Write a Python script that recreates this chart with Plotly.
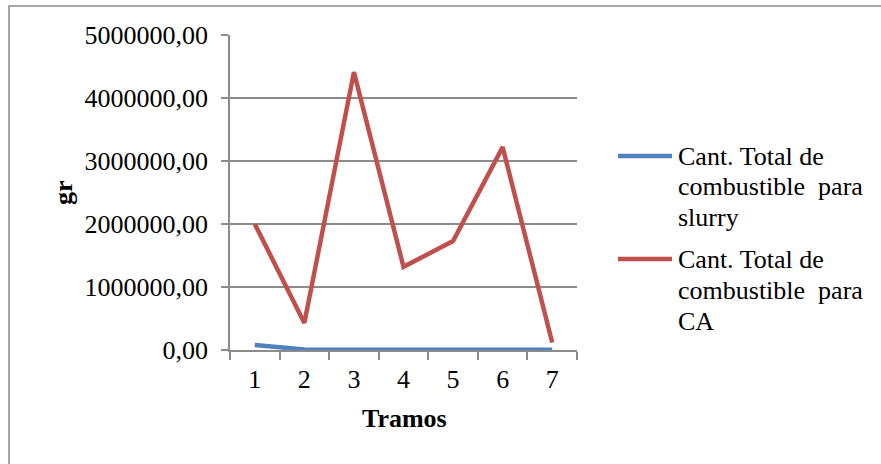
import plotly.graph_objects as go

# Tramos (segments) and fuel totals in grams
tramos = ["1", "2", "3", "4", "5", "6", "7"]
slurry_gr = [80000, 8000, 5000, 5000, 5000, 5000, 5000]
ca_gr = [2000000, 430000, 4410000, 1320000, 1730000, 3220000, 120000]
y_ticks = [0, 1000000, 2000000, 3000000, 4000000, 5000000]
y_tick_labels = ["0,00", "1000000,00", "2000000,00", "3000000,00", "4000000,00", "5000000,00"]
legend_lines = [
    ["Cant. Total de", "combustible\u00a0 para", "slurry"],
    ["Cant. Total de", "combustible\u00a0 para", "CA"],
]
colors = ["#4F81BD", "#C0504D"]

FONT = "Liberation Serif"
GRID = "#8c8c8c"

W, H = 881, 464
L, R, T, B = 230, 577, 35, 350  # plot area in pixels


def px(x):
    return (x - L) / (R - L)


def py(y):
    return (B - y) / (B - T)


fig = go.Figure()
fig.add_trace(go.Scatter(x=tramos, y=slurry_gr, mode="lines",
                         line=dict(color=colors[0], width=4.5), hoverinfo="skip"))
fig.add_trace(go.Scatter(x=tramos, y=ca_gr, mode="lines",
                         line=dict(color=colors[1], width=4.5), hoverinfo="skip"))

shapes = [
    # outer chart frame
    dict(type="rect", xref="paper", yref="paper",
         x0=px(9), x1=px(900), y0=py(480), y1=py(6),
         line=dict(color="#8a8a8a", width=1.5), fillcolor="rgba(0,0,0,0)", layer="below"),
]
annotations = [
    dict(text="<b>gr</b>", xref="paper", yref="paper", x=px(63), y=py(193),
         textangle=-90, showarrow=False, font=dict(family=FONT, size=26, color="black"),
         xanchor="center", yanchor="middle"),
    dict(text="<b>Tramos</b>", xref="paper", yref="paper", x=px(404), y=py(418),
         showarrow=False, font=dict(family=FONT, size=26, color="black"),
         xanchor="center", yanchor="middle"),
]

# legend: sample line plus wrapped label for each series
for i, (lines, col) in enumerate(zip(legend_lines, colors)):
    y0 = 156 + i * 103
    shapes.append(dict(type="line", xref="paper", yref="paper",
                       x0=px(618), x1=px(672), y0=py(y0), y1=py(y0),
                       line=dict(color=col, width=4.5)))
    for j, txt in enumerate(lines):
        annotations.append(dict(text=txt, xref="paper", yref="paper",
                                x=px(676), y=py(y0 + j * 31), showarrow=False,
                                xanchor="left", yanchor="middle",
                                font=dict(family=FONT, size=26, color="black")))

fig.update_layout(
    width=W, height=H,
    margin=dict(l=L, r=W - R, t=T, b=H - B),
    paper_bgcolor="white", plot_bgcolor="white",
    showlegend=False,
    font=dict(family=FONT, size=26, color="black"),
    shapes=shapes, annotations=annotations,
    xaxis=dict(type="category", tickson="boundaries", ticks="outside", ticklen=8,
               tickcolor=GRID, tickwidth=1.5, showline=True, linecolor=GRID, linewidth=1.5,
               showgrid=False, tickfont=dict(family=FONT, size=26, color="black"),
               ticklabelstandoff=5,
               range=[-0.5, 6.5], fixedrange=True),
    yaxis=dict(range=[0, 5000000], tickvals=y_ticks, ticktext=y_tick_labels,
               ticks="outside", ticklen=7, tickcolor=GRID, tickwidth=1.5,
               showline=True, linecolor=GRID, linewidth=1.5,
               showgrid=True, gridcolor=GRID, gridwidth=1.5, zeroline=False,
               ticklabelstandoff=8,
               tickfont=dict(family=FONT, size=26, color="black"), fixedrange=True),
)

fig.write_html("out.html")
